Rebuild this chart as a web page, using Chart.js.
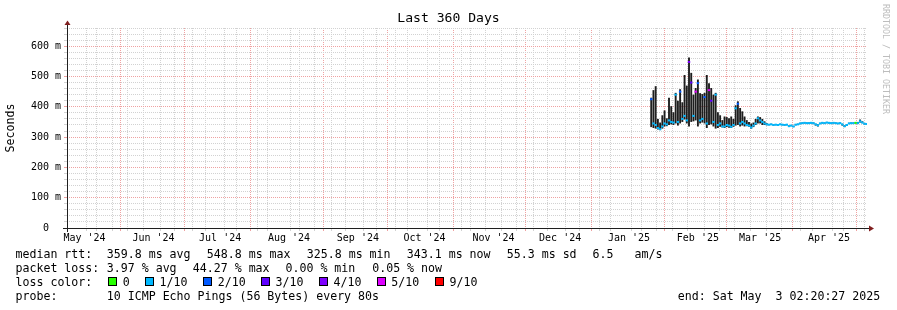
<!DOCTYPE html>
<html>
<head>
<meta charset="utf-8">
<script src="https://cdn.jsdelivr.net/npm/chart.js@4.4.1/dist/chart.umd.min.js"></script>
<style>
  html, body { margin:0; padding:0; background:#fff; }
  #wrap { position:relative; width:897px; height:310px; overflow:hidden; background:#fff; font-family:'DejaVu Sans Mono', monospace; }
  #c { position:absolute; left:0; top:0; }
  .t { position:absolute; font-size:11.6px; line-height:14px; white-space:pre; color:#000; }
  .box { position:absolute; width:9px; height:9px; box-sizing:border-box; border:1px solid #000; }
  #wm { position:absolute; left:881px; top:4px; writing-mode:vertical-rl; font-size:8.3px; line-height:10px; color:#bdbdbd; white-space:pre; }
</style>
</head>
<body>
<div id="wrap">
  <canvas id="c" width="897" height="310"></canvas>
  <div class="t" style="left:15.5px;top:246.5px">median rtt:</div>
  <div class="t" style="left:106.8px;top:246.5px">359.8 ms avg</div>
  <div class="t" style="left:206.8px;top:246.5px">548.8 ms max</div>
  <div class="t" style="left:306.8px;top:246.5px">325.8 ms min</div>
  <div class="t" style="left:406.8px;top:246.5px">343.1 ms now</div>
  <div class="t" style="left:506.8px;top:246.5px">55.3 ms sd</div>
  <div class="t" style="left:592.5px;top:246.5px">6.5</div>
  <div class="t" style="left:634.5px;top:246.5px">am/s</div>

  <div class="t" style="left:15.5px;top:260.5px">packet loss:</div>
  <div class="t" style="left:106.8px;top:260.5px">3.97 % avg</div>
  <div class="t" style="left:192.8px;top:260.5px">44.27 % max</div>
  <div class="t" style="left:285.5px;top:260.5px">0.00 % min</div>
  <div class="t" style="left:372.2px;top:260.5px">0.05 % now</div>

  <div class="t" style="left:15.5px;top:274.5px">loss color:</div>
  <div id="lossLegend"></div>

  <div class="t" style="left:15.5px;top:288.5px">probe:</div>
  <div class="t" style="left:106.8px;top:288.5px">10 ICMP Echo Pings (56 Bytes) every 80s</div>
  <div class="t" style="left:677.8px;top:288.5px">end: Sat May  3 02:20:27 2025</div>

  <div id="wm">RRDTOOL / TOBI OETIKER</div>
</div>
<script>
// ---------------- data ----------------
const sampleDates = [
'2025-01-26','2025-01-27','2025-01-28','2025-01-29','2025-01-30','2025-01-31',
'2025-02-01','2025-02-02','2025-02-03','2025-02-04','2025-02-05','2025-02-06','2025-02-07','2025-02-08','2025-02-09','2025-02-10',
'2025-02-11','2025-02-12','2025-02-13','2025-02-14','2025-02-15','2025-02-16','2025-02-17','2025-02-18','2025-02-19','2025-02-20',
'2025-02-21','2025-02-22','2025-02-23','2025-02-24','2025-02-25','2025-02-26','2025-02-27','2025-02-28',
'2025-03-01','2025-03-02','2025-03-03','2025-03-04','2025-03-05','2025-03-06','2025-03-07','2025-03-08','2025-03-09','2025-03-10',
'2025-03-11','2025-03-12','2025-03-13','2025-03-14','2025-03-15','2025-03-16','2025-03-17','2025-03-18','2025-03-19','2025-03-20',
'2025-03-21','2025-03-22','2025-03-23','2025-03-24','2025-03-25','2025-03-26','2025-03-27','2025-03-28','2025-03-29','2025-03-30','2025-03-31',
'2025-04-01','2025-04-02','2025-04-03','2025-04-04','2025-04-05','2025-04-06','2025-04-07','2025-04-08','2025-04-09','2025-04-10',
'2025-04-11','2025-04-12','2025-04-13','2025-04-14','2025-04-15','2025-04-16','2025-04-17','2025-04-18','2025-04-19','2025-04-20',
'2025-04-21','2025-04-22','2025-04-23','2025-04-24','2025-04-25','2025-04-26','2025-04-27','2025-04-28','2025-04-29','2025-04-30',
'2025-05-01','2025-05-02','2025-05-03'];

const medianMs = [
425,345,340,330,326,335,
345,342,355,350,348,440,350,450,360,370,355,548,480,370,450,478,355,360,432,345,455,420,350,440,340,345,335,335,
340,338,334,340,395,410,345,350,345,340,338,332,338,345,362,355,350,345,342,341,342,340,341,340,342,341,340,341,336,338,335,
341,342,345,346,347,346,346,347,346,342,339,345,347,346,348,347,346,347,346,345,346,342,336,340,345,346,346,347,346,352,
348,344,343];

const smokeLowMs = [
333,330,328,325,323,328,
335,336,340,342,340,345,338,345,350,358,345,335,350,352,355,335,345,348,345,330,340,342,335,328,330,334,332,330,
333,331,330,334,338,340,335,338,335,336,334,328,333,340,345,345,340,340,339,339,340,338,339,338,340,339,338,339,334,336,333,
339,340,343,344,345,344,344,345,344,338,335,343,345,344,346,345,344,345,344,343,344,338,333,337,343,344,344,345,344,348,
346,342,341];

const smokeHighMs = [
430,455,468,360,348,372,
388,362,430,402,382,446,420,458,415,505,470,563,512,440,462,490,445,442,446,505,478,462,440,446,382,372,356,368,
366,362,368,360,405,418,396,385,368,356,350,345,348,360,368,366,360,352,346,343,344,342,343,342,344,343,342,343,338,340,337,
343,344,347,348,349,348,348,349,348,344,342,347,349,348,350,349,348,349,348,347,348,344,339,342,347,348,348,349,350,358,
352,346,345];

const lossTenths = [
2,1,1,1,1,1,
1,1,1,1,1,1,1,2,1,1,1,4,3,1,5,2,1,1,2,1,5,3,1,1,1,1,1,1,
1,1,1,1,1,2,1,1,1,1,1,1,1,1,1,1,1,1,1,1,1,1,1,1,1,1,1,1,1,1,1,
1,1,1,1,1,1,1,1,1,1,1,1,1,1,1,1,1,1,1,1,1,1,1,1,1,1,1,0,1,1,
1,1,1];

const lossLegendLabels = ['0','1/10','2/10','3/10','4/10','5/10','9/10'];
const lossLegendTenths = [0,1,2,3,4,5,9];
const lossLegendColors = ['#26ff00','#00b8ff','#0059ff','#5e00ff','#7e00ff','#dd00ff','#ff0000'];

const monthLabels = ["May '24","Jun '24","Jul '24","Aug '24","Sep '24","Oct '24","Nov '24","Dec '24","Jan '25","Feb '25","Mar '25","Apr '25"];
const yLabelValues = [0,100,200,300,400,500,600];
const yLabelTexts  = ['0  ','100 m','200 m','300 m','400 m','500 m','600 m'];

// ---------------- setup ----------------
const MONO = "'DejaVu Sans Mono', monospace";
const DAY = 86400000;
const endTime = new Date(2025, 4, 3, 2, 20, 27).getTime();
const spanDays = 360;
const startTime = endTime - spanDays * DAY;
const toDay = t => (t - startTime) / DAY;
const parseLocal = s => { const p = s.split('-').map(Number); return new Date(p[0], p[1]-1, p[2]).getTime(); };

const MINOR = '#d2d2d2';
const MAJOR = '#efa2a2';
const CLEAR = 'rgba(0,0,0,0)';
const AXIS = '#1f1f1f';
const ARROW = '#801f1f';

function lossColor(t) {
  let c = lossLegendColors[0];
  for (let i = 0; i < lossLegendTenths.length; i++) if (t >= lossLegendTenths[i]) c = lossLegendColors[i];
  return c;
}

// x ticks: weekly minor grid, monthly major grid, mid-month labels
const xTicks = [];
for (let k = 0; ; k++) {
  const d = toDay(new Date(2024, 4, 11 + 7 * k).getTime());
  if (d > spanDays) break;
  if (d >= 0) xTicks.push({ value: d, kind: 'week', rank: 0 });
}
for (let k = 0; k < 13; k++) {
  const d = toDay(new Date(2024, 5 + k, 1).getTime());
  if (d >= 0 && d <= spanDays) xTicks.push({ value: d, kind: 'month', rank: 1 });
}
monthLabels.forEach((lbl, k) => {
  const d = toDay(new Date(2024, 4 + k, 1).getTime() + 15 * DAY);
  xTicks.push({ value: d, kind: 'label', rank: 2, lbl });
});
xTicks.sort((a, b) => a.value - b.value || a.rank - b.rank);

const yTicks = [];
for (let v = 0; v <= 660; v += 20) yTicks.push(v);

const sampleDays = sampleDates.map(s => toDay(parseLocal(s)));
const smokeData = sampleDays.map((d, i) => ({ x: d, y: [smokeLowMs[i], smokeHighMs[i]] }));
const medianData = sampleDays.map((d, i) => ({ x: d, y: medianMs[i] }));
const medianColors = lossTenths.map(lossColor);

const xGridColor = c => {
  const k = c.tick ? c.tick.kind : null;
  return k === 'month' ? MAJOR : (k === 'week' ? MINOR : CLEAR);
};
const yGridColor = c => {
  if (!c.tick) return CLEAR;
  return c.tick.value % 100 === 0 ? MAJOR : MINOR;
};

// loss legend (html)
(function () {
  const host = document.getElementById('lossLegend');
  const textX = [122.8, 159.5, 217.8, 275.5, 333.5, 391.2, 449.5];
  lossLegendLabels.forEach((lbl, i) => {
    const b = document.createElement('div');
    b.className = 'box';
    b.style.left = (textX[i] - 14.5) + 'px';
    b.style.top = '277px';
    b.style.background = lossLegendColors[i];
    host.appendChild(b);
    const t = document.createElement('div');
    t.className = 't';
    t.style.left = textX[i] + 'px';
    t.style.top = '274.5px';
    t.textContent = lbl;
    host.appendChild(t);
  });
})();

const rrdAxes = {
  id: 'rrdAxes',
  afterDatasetsDraw(chart) {
    const { ctx, chartArea: a } = chart;
    ctx.save();
    ctx.strokeStyle = AXIS;
    ctx.lineWidth = 1;
    ctx.beginPath();
    ctx.moveTo(a.left - 4, a.bottom + 0.5); ctx.lineTo(a.right + 4, a.bottom + 0.5);
    ctx.moveTo(a.left + 0.5, a.bottom + 4); ctx.lineTo(a.left + 0.5, a.top - 4);
    ctx.stroke();
    ctx.fillStyle = ARROW;
    ctx.beginPath();
    ctx.moveTo(a.left - 2.5, a.top - 3); ctx.lineTo(a.left + 3.5, a.top - 3); ctx.lineTo(a.left + 0.5, a.top - 7.5);
    ctx.closePath(); ctx.fill();
    ctx.beginPath();
    ctx.moveTo(a.right + 2, a.bottom - 2.5); ctx.lineTo(a.right + 2, a.bottom + 3.5); ctx.lineTo(a.right + 7, a.bottom + 0.5);
    ctx.closePath(); ctx.fill();
    ctx.restore();
  }
};

new Chart(document.getElementById('c'), {
  type: 'bar',
  data: {
    datasets: [
      {
        type: 'line',
        label: 'median rtt',
        data: medianData,
        showLine: false,
        pointStyle: 'line',
        pointRadius: 1.2,
        pointHoverRadius: 1.2,
        pointBorderWidth: 2,
        pointBorderColor: medianColors,
        pointBackgroundColor: medianColors,
        order: 0
      },
      {
        type: 'bar',
        label: 'smoke',
        data: smokeData,
        backgroundColor: '#1e1e1e',
        borderWidth: 0,
        barPercentage: 0.85,
        categoryPercentage: 1,
        inflateAmount: 0,
        order: 1
      }
    ]
  },
  options: {
    responsive: false,
    animation: false,
    devicePixelRatio: 1,
    layout: { padding: { left: 0, right: 0, top: 0, bottom: 0 } },
    plugins: {
      legend: { display: false },
      tooltip: { enabled: false },
      title: {
        display: true,
        text: 'Last 360 Days',
        color: '#000',
        font: { family: MONO, size: 13.1, weight: 'normal' },
        padding: { top: 11, bottom: 1.28 }
      }
    },
    scales: {
      x: {
        type: 'linear',
        min: 0,
        max: spanDays,
        offset: false,
        afterBuildTicks: s => { s.ticks = xTicks.map(t => Object.assign({}, t)); },
        afterFit: s => { s.height = 82; },
        ticks: {
          autoSkip: false, maxRotation: 0, minRotation: 0, padding: 1,
          color: '#000', font: { family: MONO, size: 10 },
          callback: (v, i, ticks) => (ticks[i] && ticks[i].lbl) || ''
        },
        grid: { lineWidth: 1, tickLength: 3, color: xGridColor, tickColor: xGridColor },
        border: { display: false, dash: [1, 1] }
      },
      y: {
        type: 'linear',
        min: 0,
        max: 660,
        afterBuildTicks: s => { s.ticks = yTicks.map(v => ({ value: v })); },
        afterFit: s => { s.width = 67; },
        ticks: {
          autoSkip: false, padding: 3,
          color: '#000', font: { family: MONO, size: 10 },
          callback: v => { const k = yLabelValues.indexOf(v); return k >= 0 ? yLabelTexts[k] : ''; }
        },
        grid: { lineWidth: 1, tickLength: 3, color: yGridColor, tickColor: yGridColor },
        border: { display: false, dash: [1, 1] },
        title: {
          display: true, text: 'Seconds', color: '#000',
          font: { family: MONO, size: 11.6 },
          padding: { top: 4, bottom: 0 }
        }
      },
      yr: {
        position: 'right',
        display: true,
        afterFit: s => { s.width = 30; },
        grid: { display: false, drawTicks: false },
        ticks: { display: false },
        border: { display: false }
      }
    }
  },
  plugins: [rrdAxes]
});
</script>
</body>
</html>
